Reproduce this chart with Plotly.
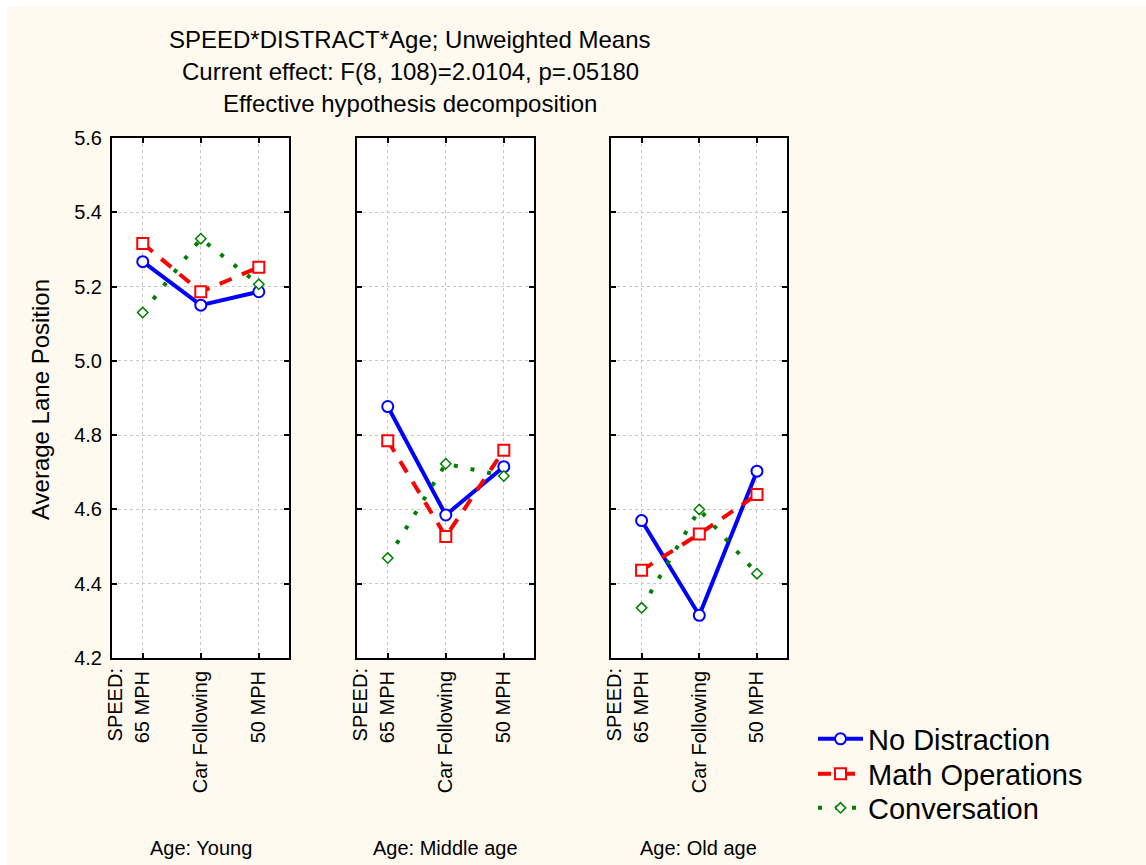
import plotly.graph_objects as go

# ---- data ----
speed_levels = ["65 MPH", "Car Following", "50 MPH"]
age_groups = ["Young", "Middle age", "Old age"]
y_ticks = [4.2, 4.4, 4.6, 4.8, 5.0, 5.2, 5.4, 5.6]

# one list per age group (Young, Middle age, Old age)
no_distraction = [[5.267, 5.150, 5.186], [4.877, 4.585, 4.715], [4.570, 4.315, 4.703]]
math_operations = [[5.316, 5.186, 5.252], [4.785, 4.527, 4.759], [4.436, 4.534, 4.640]]
conversation = [[5.130, 5.329, 5.206], [4.469, 4.723, 4.690], [4.335, 4.600, 4.427]]

series_names = ["No Distraction", "Math Operations", "Conversation"]

W, H = 1146, 865
cream = "#FFFAF0"
FONT = "Liberation Sans, Arial"

def px_x(p):
    return p / W

def px_y(p):
    return 1 - p / H

panel_px = [(112, 289), (357, 534), (611, 787)]
y_top, y_bot = 138, 658

fig = go.Figure()

styles = [
    dict(line=dict(color="#0000FF", width=4), marker=dict(symbol="circle", size=11, color="white",
                                                           line=dict(color="#0000FF", width=2))),
    dict(line=dict(color="#FF0000", width=4, dash="13px,11px"),
         marker=dict(symbol="square", size=11, color="white", line=dict(color="#FF0000", width=2))),
    dict(line=dict(color="#008000", width=4, dash="4px,13px"),
         marker=dict(symbol="diamond", size=8, color="white", line=dict(color="#008000", width=1.5))),
]
all_series = [no_distraction, math_operations, conversation]
legend_ids = ["legend", "legend2", "legend3"]
xs = list(range(len(speed_levels)))

for p in range(3):
    suffix = "" if p == 0 else str(p + 1)
    for s, (name, vals, st) in enumerate(zip(series_names, all_series, styles)):
        fig.add_trace(go.Scatter(
            x=xs, y=vals[p], mode="lines+markers", name=name,
            legendgroup=name, showlegend=(p == 0), legend=legend_ids[s],
            line=st["line"], marker=st["marker"],
            xaxis="x" + suffix, yaxis="y" + suffix,
        ))

axis_common = dict(
    showline=True, linecolor="black", linewidth=2, mirror="allticks",
    ticks="inside", ticklen=5, tickwidth=1.5, tickcolor="black",
    showgrid=True, gridcolor="#C8C8C8", griddash="dot", gridwidth=1,
    zeroline=False,
    tickfont=dict(family=FONT, size=20, color="black"),
)

layout = dict(
    width=W, height=H,
    margin=dict(l=0, r=0, t=0, b=0, autoexpand=False),
    paper_bgcolor=cream, plot_bgcolor="white",
    font=dict(family=FONT, color="black"),
)

legend_rows = [739, 774, 808]
for lid, yc in zip(legend_ids, legend_rows):
    layout[lid] = dict(x=px_x(813), y=px_y(yc), xanchor="left", yanchor="middle",
                       bgcolor="rgba(0,0,0,0)", font=dict(family=FONT, size=29),
                       itemwidth=45)

for p, (x0, x1) in enumerate(panel_px):
    suffix = "" if p == 0 else str(p + 1)
    layout["xaxis" + suffix] = dict(
        axis_common, domain=[px_x(x0), px_x(x1)], range=[-0.53, 2.52],
        tickvals=xs, ticktext=speed_levels, tickangle=-90, ticklabelstandoff=3,
        anchor="y" + suffix,
    )
    layout["yaxis" + suffix] = dict(
        axis_common, domain=[px_y(y_bot), px_y(y_top)], range=[4.2, 5.6],
        tickvals=y_ticks, tickformat=".1f", showticklabels=(p == 0),
        ticklabelstandoff=4, anchor="x" + suffix,
    )

fig.update_layout(**layout)

annotations = []
title_lines = ["SPEED*DISTRACT*Age; Unweighted Means",
               "Current effect: F(8, 108)=2.0104, p=.05180",
               "Effective hypothesis decomposition"]
for line, yc in zip(title_lines, [40, 72, 104]):
    annotations.append(dict(text=line, x=px_x(410), y=px_y(yc), xref="paper", yref="paper",
                            xanchor="center", yanchor="middle", showarrow=False,
                            font=dict(size=24)))

annotations.append(dict(text="Average Lane Position", x=px_x(40), y=px_y(400),
                        xref="paper", yref="paper", textangle=-90, showarrow=False,
                        xanchor="center", yanchor="middle", font=dict(size=24)))

for p, (x0, x1) in enumerate(panel_px):
    suffix = "" if p == 0 else str(p + 1)
    annotations.append(dict(text="SPEED:", x=-0.48, xref="x" + suffix, y=px_y(666), yref="paper",
                            textangle=-90, showarrow=False, xanchor="center", yanchor="top",
                            font=dict(size=20)))
    annotations.append(dict(text="Age: " + age_groups[p], x=px_x((x0 + x1) / 2), y=px_y(848),
                            xref="paper", yref="paper", showarrow=False,
                            xanchor="center", yanchor="middle", font=dict(size=20)))

fig.update_layout(annotations=annotations)

fig.update_layout(shapes=[
    dict(type="rect", xref="paper", yref="paper", x0=0, x1=px_x(7), y0=0, y1=1,
         fillcolor="white", line=dict(width=0), layer="below"),
    dict(type="rect", xref="paper", yref="paper", x0=0, x1=1, y0=px_y(7), y1=1,
         fillcolor="white", line=dict(width=0), layer="below"),
])

fig.write_html("out.html")
